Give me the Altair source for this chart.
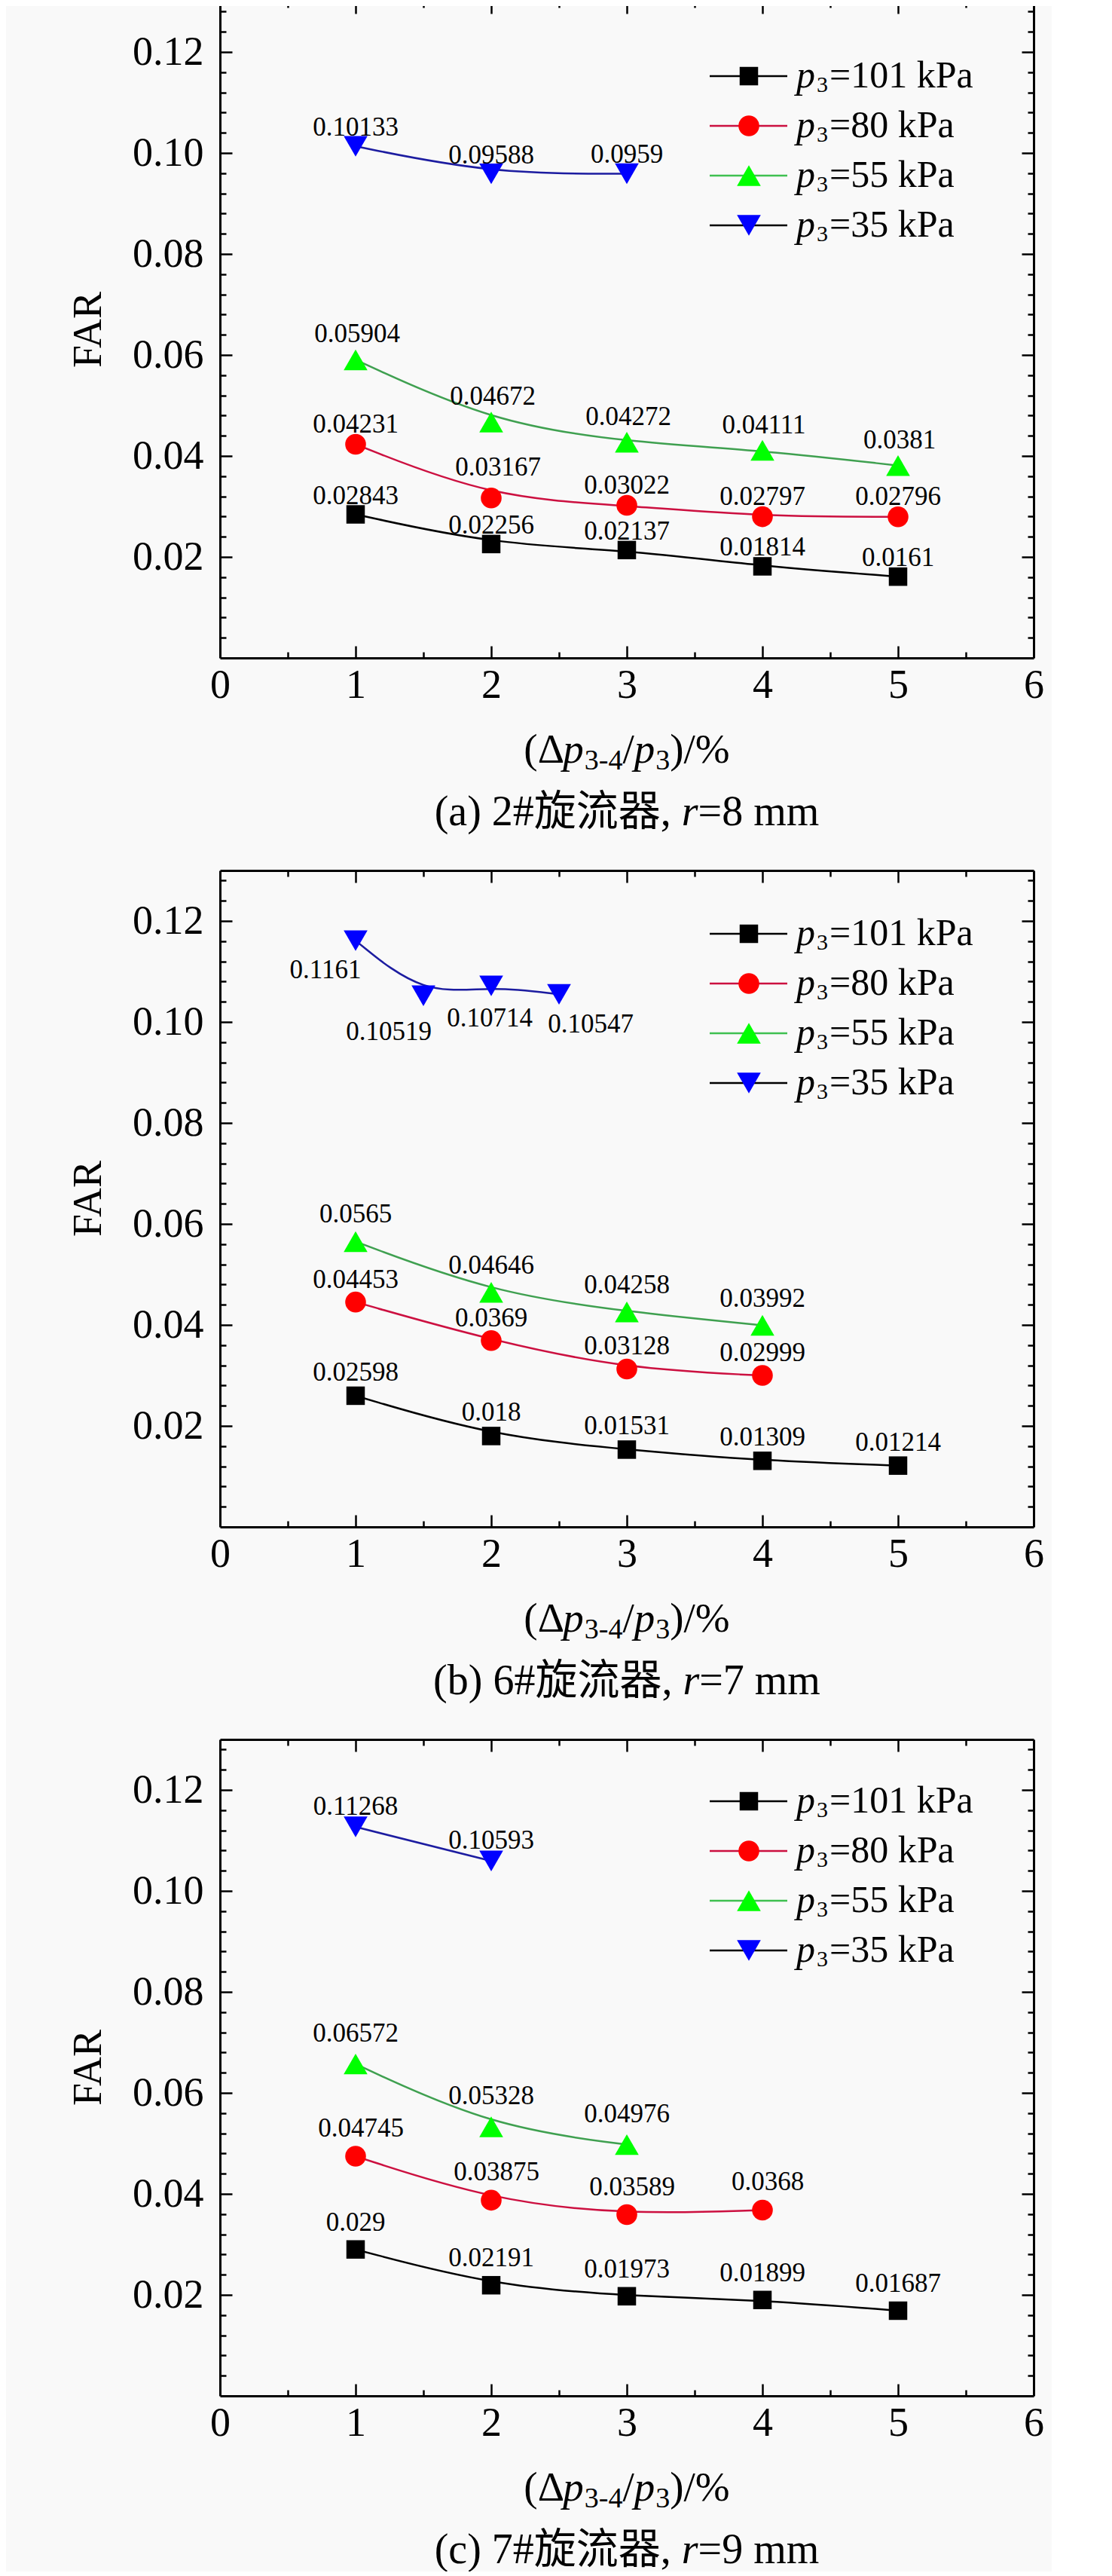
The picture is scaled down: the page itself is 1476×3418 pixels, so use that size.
import altair as alt
import pandas as pd

# ---------------- data ----------------
series_keys = ["101", "80", "55", "35"]
series_kpa = ["101", "80", "55", "35"]

# (a) 2# swirler, r = 8 mm
a_x_101 = [1, 2, 3, 4, 5]
a_far_101 = [0.02843, 0.02256, 0.02137, 0.01814, 0.0161]
a_x_80 = [1, 2, 3, 4, 5]
a_far_80 = [0.04231, 0.03167, 0.03022, 0.02797, 0.02796]
a_x_55 = [1, 2, 3, 4, 5]
a_far_55 = [0.05904, 0.04672, 0.04272, 0.04111, 0.0381]
a_x_35 = [1, 2, 3]
a_far_35 = [0.10133, 0.09588, 0.0959]

# (b) 6# swirler, r = 7 mm
b_x_101 = [1, 2, 3, 4, 5]
b_far_101 = [0.02598, 0.018, 0.01531, 0.01309, 0.01214]
b_x_80 = [1, 2, 3, 4]
b_far_80 = [0.04453, 0.0369, 0.03128, 0.02999]
b_x_55 = [1, 2, 3, 4]
b_far_55 = [0.0565, 0.04646, 0.04258, 0.03992]
b_x_35 = [1, 1.5, 2, 2.5]
b_far_35 = [0.1161, 0.10519, 0.10714, 0.10547]

# (c) 7# swirler, r = 9 mm
c_x_101 = [1, 2, 3, 4, 5]
c_far_101 = [0.029, 0.02191, 0.01973, 0.01899, 0.01687]
c_x_80 = [1, 2, 3, 4]
c_far_80 = [0.04745, 0.03875, 0.03589, 0.0368]
c_x_55 = [1, 2, 3]
c_far_55 = [0.06572, 0.05328, 0.04976]
c_x_35 = [1, 2]
c_far_35 = [0.11268, 0.10593]

caption_heads = ["(a) 2#旋流器, ", "(b) 6#旋流器, ", "(c) 7#旋流器, "]
caption_r = ["8", "7", "9"]

x_tick_values = [0, 1, 2, 3, 4, 5, 6]
y_tick_values = [0.02, 0.04, 0.06, 0.08, 0.10, 0.12]

# ---------------- style ----------------
W, H = 1080, 871
FONT = "'Liberation Serif', 'Times New Roman', 'Noto Sans CJK SC', serif"
MARK_COLOR = {"101": "#000000", "80": "#ff0000", "55": "#00ff00", "35": "#0000ff"}
LINE_COLOR = {"101": "#000000", "80": "#cc1040", "55": "#3fa050", "35": "#1c1ca0"}
LEG_LINE_COLOR = {"101": "#000000", "80": "#cc1040", "55": "#3fc050", "35": "#000000"}
SHAPE = {"101": "square", "80": "circle", "55": "triangle-up", "35": "triangle-down"}
SIZE = {"101": 600, "80": 760, "55": 1000, "35": 1000}

LEG_TOP = {"a": 99, "b": 84, "c": 82}
LAB_DY = {
    "a": {"101": -25, "80": -27, "55": -34, "35": -25},
    "b": {"101": -31, "80": -30, "55": -36, "35": -30},
    "c": {"101": -36, "80": -37, "55": -41, "35": -27},
}
LAB_DX = {
    "a": {"101": 0, "80": 0, "55": 2, "35": 0},
    "b": {"101": 0, "80": 0, "55": 0, "35": 0},
    "c": {"101": 0, "80": 7, "55": 0, "35": 0},
}
LAB_OVERRIDE = {
    ("a", "80", 1): (9, -41),
    ("b", "35", 0): (-40, 39),
    ("b", "35", 1): (-46, 48),
    ("b", "35", 2): (-2, 43),
    ("b", "35", 3): (42, 40),
}

TW = {'(': .333, ')': .333, '/': .278, '%': .833, '-': .333, '=': .564, ' ': .25,
      ',': .25, '.': .25, '#': .5, 'k': .5, 'P': .556, 'a': .444, 'b': .5, 'c': .444,
      'm': .778, 'Δ': .612, 'p': .5, 'r': .389}


def tw(s, size):
    w = 0.0
    for ch in s:
        if ch.isdigit():
            w += .5
        elif ord(ch) > 0x2E80:
            w += 1.0
        else:
            w += TW.get(ch, .5)
    return w * size


XS = alt.Scale(domain=[0, 6], nice=False, zero=False)
YS = alt.Scale(domain=[0, 0.13], nice=False, zero=False)

x_minor = [k + 0.5 for k in range(6)]
x_major_in = [1, 2, 3, 4, 5]
y_major_in = y_tick_values
y_minor = [round(k * 0.004, 3) for k in range(1, 33) if k % 5 != 0]

TICK = dict(labels=False, title=None, grid=False, tickColor="black", tickWidth=2.5,
            domainColor="black", domainWidth=3)


def axes_x():
    return [
        alt.Axis(orient="bottom", values=x_tick_values, format="d", title=None, ticks=False,
                 tickSize=0, labelFont=FONT, labelFontSize=54, labelColor="black",
                 labelPadding=9, labelFlush=False, labelOverlap=False, grid=False,
                 domainColor="black", domainWidth=3),
        alt.Axis(orient="top", offset=-H, values=x_major_in, tickSize=16, domain=False, **TICK),
        alt.Axis(orient="top", offset=-H, values=x_minor, tickSize=8, domain=False, **TICK),
        alt.Axis(orient="bottom", offset=-H, values=x_major_in, tickSize=16, domain=True, **TICK),
        alt.Axis(orient="bottom", offset=-H, values=x_minor, tickSize=8, domain=False, **TICK),
    ]


def axes_y():
    return [
        alt.Axis(orient="left", values=y_tick_values, format=".2f", title=None, ticks=False,
                 tickSize=0, labelFont=FONT, labelFontSize=54, labelColor="black",
                 labelPadding=22, labelFlush=False, labelOverlap=False, grid=False,
                 domainColor="black", domainWidth=3),
        alt.Axis(orient="right", offset=-W, values=y_major_in, tickSize=16, domain=False, **TICK),
        alt.Axis(orient="right", offset=-W, values=y_minor, tickSize=8, domain=False, **TICK),
        alt.Axis(orient="left", offset=-W, values=y_major_in, tickSize=16, domain=True, **TICK),
        alt.Axis(orient="left", offset=-W, values=y_minor, tickSize=8, domain=False, **TICK),
    ]


def text_layer(df, italic):
    return alt.Chart(df).mark_text(
        font=FONT, align="left", baseline="alphabetic", color="black",
        fontStyle="italic" if italic else "normal"
    ).encode(
        x=alt.X("px:Q", scale=None, axis=None),
        y=alt.Y("py:Q", scale=None, axis=None),
        text="t:N",
        size=alt.Size("fs:Q", scale=None, legend=None),
    )


def panel(key, idx, data):
    axx, axy = axes_x(), axes_y()
    line_layers, point_layers = [], []
    k = 0
    for s in series_keys:
        xs, ys = data[s]
        df = pd.DataFrame({"x": xs, "far": ys})
        ax = axx[k] if k < len(axx) else None
        ay = axy[k] if k < len(axy) else None
        line_layers.append(
            alt.Chart(df).mark_line(interpolate="basis", color=LINE_COLOR[s], strokeWidth=2.5)
            .encode(x=alt.X("x:Q", scale=XS, axis=ax), y=alt.Y("far:Q", scale=YS, axis=ay))
        )
        k += 1
    for s in series_keys:
        xs, ys = data[s]
        df = pd.DataFrame({"x": xs, "far": ys})
        ax = axx[k] if k < len(axx) else None
        ay = axy[k] if k < len(axy) else None
        point_layers.append(
            alt.Chart(df).mark_point(shape=SHAPE[s], filled=True, size=SIZE[s],
                                     color=MARK_COLOR[s], opacity=1)
            .encode(x=alt.X("x:Q", scale=XS, axis=ax), y=alt.Y("far:Q", scale=YS, axis=ay))
        )
        k += 1

    # value labels grouped by offset
    groups = {}
    for s in series_keys:
        xs, ys = data[s]
        for i, (xv, yv) in enumerate(zip(xs, ys)):
            off = LAB_OVERRIDE.get((key, s, i), (LAB_DX[key][s], LAB_DY[key][s]))
            groups.setdefault(off, []).append((xv, yv, repr(yv)))
    label_layers = []
    for (dx, dy), rows in groups.items():
        df = pd.DataFrame(rows, columns=["x", "far", "lab"])
        label_layers.append(
            alt.Chart(df).mark_text(font=FONT, fontSize=35, color="black", align="center",
                                    baseline="middle", dx=dx, dy=dy)
            .encode(x=alt.X("x:Q", scale=XS, axis=None), y=alt.Y("far:Q", scale=YS, axis=None),
                    text="lab:N")
        )

    # legend (drawn inside the frame)
    lt = LEG_TOP[key]
    leg_rows, leg_sym, rom, ita = [], [], [], []
    for i, s in enumerate(series_keys):
        ly = lt + i * 66
        leg_rows.append({"lx1": 650, "lx2": 753, "ly": ly, "lc": LEG_LINE_COLOR[s]})
        leg_sym.append({"sx": 702, "sy": ly, "shp": SHAPE[s], "ssz": SIZE[s], "sc": MARK_COLOR[s]})
        x0 = 765
        ita.append({"px": x0, "py": ly + 15, "t": "p", "fs": 50})
        xs_ = x0 + tw("p", 50) + 2
        rom.append({"px": xs_, "py": ly + 21, "t": "3", "fs": 30})
        rom.append({"px": xs_ + tw("3", 30) + 2, "py": ly + 15, "t": "=" + series_kpa[i] + " kPa", "fs": 50})

    # x title: (Δp3-4/p3)/%
    pieces = [("(Δ", False, 55, 0), ("p", True, 55, 0), ("3-4", False, 38, 9), ("/", False, 55, 0),
              ("p", True, 55, 0), ("3", False, 38, 9), (")/%", False, 55, 0)]
    gaps = [0, 0, 1, 0, 0, 1, 0]
    total = sum(tw(t, fs) for t, _, fs, _ in pieces) + sum(gaps)
    cx = W / 2 - total / 2
    for (t, it, fs, dyb), g in zip(pieces, gaps):
        cx += g
        (ita if it else rom).append({"px": cx, "py": 1010 + dyb, "t": t, "fs": fs})
        cx += tw(t, fs)

    # caption
    cap = [(caption_heads[idx], False), ("r", True), ("=" + caption_r[idx] + " mm", False)]
    total = sum(tw(t, 56) for t, _ in cap)
    cx = W / 2 - total / 2
    for t, it in cap:
        (ita if it else rom).append({"px": cx, "py": 1093, "t": t, "fs": 56})
        cx += tw(t, 56)

    deco = [
        alt.Chart(pd.DataFrame(leg_rows)).mark_rule(strokeWidth=2.5).encode(
            x=alt.X("lx1:Q", scale=None, axis=None), x2="lx2:Q",
            y=alt.Y("ly:Q", scale=None, axis=None),
            color=alt.Color("lc:N", scale=None, legend=None)),
        alt.Chart(pd.DataFrame(leg_sym)).mark_point(filled=True, opacity=1).encode(
            x=alt.X("sx:Q", scale=None, axis=None), y=alt.Y("sy:Q", scale=None, axis=None),
            shape=alt.Shape("shp:N", scale=None, legend=None),
            size=alt.Size("ssz:Q", scale=None, legend=None),
            color=alt.Color("sc:N", scale=None, legend=None)),
        text_layer(pd.DataFrame(rom), False),
        text_layer(pd.DataFrame(ita), True),
        alt.Chart(pd.DataFrame({"t": ["FAR"]})).mark_text(
            font=FONT, fontSize=54, angle=270, align="center", baseline="middle", color="black"
        ).encode(x=alt.value(-174), y=alt.value(H / 2), text="t:N"),
    ]

    return alt.layer(*line_layers, *point_layers, *label_layers, *deco).resolve_axis(
        x="independent", y="independent").properties(width=W, height=H)


data_a = {"101": (a_x_101, a_far_101), "80": (a_x_80, a_far_80), "55": (a_x_55, a_far_55), "35": (a_x_35, a_far_35)}
data_b = {"101": (b_x_101, b_far_101), "80": (b_x_80, b_far_80), "55": (b_x_55, b_far_55), "35": (b_x_35, b_far_35)}
data_c = {"101": (c_x_101, c_far_101), "80": (c_x_80, c_far_80), "55": (c_x_55, c_far_55), "35": (c_x_35, c_far_35)}

chart = alt.vconcat(
    panel("a", 0, data_a), panel("b", 1, data_b), panel("c", 2, data_c), spacing=47
).configure_view(stroke=None).properties(
    background="#f9f9f9",
    padding={"left": 83, "top": -8, "right": 10, "bottom": 0},
)

chart.save("out.html", embed_options={"renderer": "svg", "actions": False})
